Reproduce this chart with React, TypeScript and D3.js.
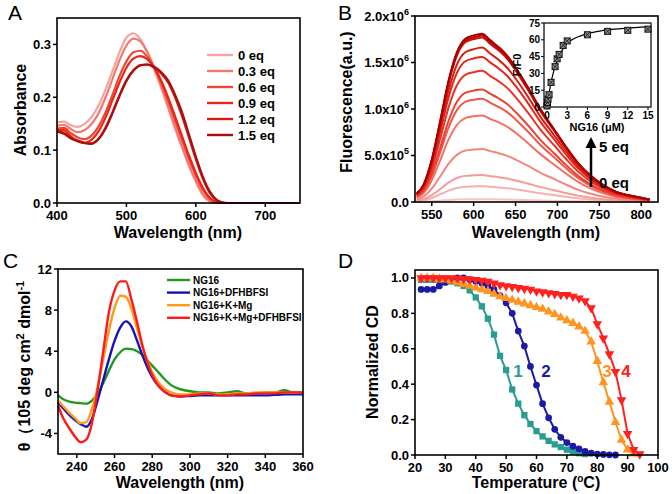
import React from 'react';
import * as d3 from 'd3';

const FONT = "'Liberation Sans', Arial, Helvetica, sans-serif";

// ---------- Panel A data ----------
const absWavelengths = [400,410,420,430,440,450,460,470,480,490,500,510,520,530,540,550,560,570,580,590,600,610,620,630,640,650,700,750];
const absLabels = ['0 eq','0.3 eq','0.6 eq','0.9 eq','1.2 eq','1.5 eq'];
const absColors = ['#f6a3a0','#f27870','#f04535','#ea2416','#da1a10','#a81010'];
const abs0 = [.152,.154,.147,.144,.150,.163,.185,.215,.250,.285,.313,.321,.310,.285,.253,.218,.180,.140,.105,.070,.040,.015,.003,0,0,0,0,0];
const abs03 = [.146,.148,.140,.134,.138,.150,.170,.200,.235,.270,.298,.311,.306,.286,.256,.222,.184,.145,.108,.073,.042,.017,.004,0,0,0,0,0];
const abs06 = [.141,.142,.132,.124,.121,.128,.145,.172,.205,.240,.268,.285,.288,.277,.256,.228,.194,.157,.120,.084,.052,.025,.008,.001,0,0,0,0];
const abs09 = [.138,.138,.126,.117,.114,.120,.136,.162,.195,.228,.256,.273,.278,.272,.256,.232,.200,.164,.127,.090,.057,.029,.010,.002,0,0,0,0];
const abs12 = [.136,.133,.124,.118,.114,.113,.122,.143,.172,.204,.232,.251,.261,.262,.256,.245,.228,.200,.165,.124,.083,.046,.019,.005,0,0,0,0];
const abs15 = [.135,.131,.122,.117,.113,.112,.121,.141,.170,.202,.231,.250,.260,.262,.258,.248,.232,.205,.172,.130,.088,.050,.022,.006,.001,0,0,0];
const absSeries = [abs0, abs03, abs06, abs09, abs12, abs15];
const absXTicks = [400,500,600,700];
const absYTicks = [0,0.1,0.2,0.3];

// ---------- Panel B data (values in units of 1e5) ----------
const flWavelengths = [532,540,550,560,570,580,590,600,610,620,630,640,650,665,680,695,710,725,740,755,770,785,800,810];
const fl00 = [0.02,0.03,0.08,0.14,0.22,0.27,0.29,0.3,0.3,0.29,0.28,0.26,0.24,0.2,0.17,0.13,0.1,0.07,0.05,0.03,0.02,0.01,0.01,0.0];
const fl01 = [0.09,0.17,0.43,0.82,1.22,1.51,1.65,1.68,1.7,1.63,1.56,1.48,1.36,1.16,0.94,0.75,0.56,0.39,0.26,0.17,0.1,0.07,0.04,0.03];
const fl02 = [0.15,0.29,0.73,1.39,2.09,2.58,2.81,2.87,2.9,2.78,2.67,2.52,2.32,1.97,1.6,1.28,0.96,0.67,0.45,0.29,0.17,0.12,0.07,0.04];
const fl03 = [0.29,0.57,1.43,2.74,4.10,5.07,5.53,5.64,5.7,5.47,5.24,4.96,4.56,3.88,3.14,2.51,1.88,1.31,0.88,0.57,0.34,0.23,0.14,0.09];
const fl04 = [0.47,0.93,2.33,4.46,6.70,8.28,9.02,9.21,9.3,8.93,8.56,8.09,7.44,6.32,5.12,4.09,3.07,2.14,1.44,0.93,0.56,0.37,0.23,0.14];
const fl05 = [0.56,1.11,2.78,5.33,7.99,9.88,10.77,10.99,11.1,10.66,10.21,9.66,8.88,7.55,6.11,4.88,3.66,2.55,1.72,1.11,0.67,0.44,0.28,0.17];
const fl06 = [0.61,1.21,3.03,5.81,8.71,10.77,11.74,11.98,12.1,11.62,11.13,10.53,9.68,8.23,6.66,5.32,3.99,2.78,1.88,1.21,0.73,0.48,0.30,0.18];
const fl07 = [0.71,1.41,3.53,6.77,10.15,12.55,13.68,13.96,14.1,13.54,12.97,12.27,11.28,9.59,7.76,6.2,4.65,3.24,2.19,1.41,0.85,0.56,0.35,0.21];
const fl08 = [0.78,1.56,3.9,7.49,11.23,13.88,15.13,15.44,15.6,14.98,14.35,13.57,12.48,10.61,8.58,6.86,5.15,3.59,2.42,1.56,0.94,0.62,0.39,0.23];
const fl09 = [0.83,1.66,4.15,7.97,11.95,14.77,16.1,16.43,16.6,15.94,15.27,14.44,13.28,11.29,9.13,7.3,5.48,3.82,2.57,1.66,1.0,0.66,0.42,0.25];
const fl10 = [0.89,1.77,4.43,8.5,12.74,15.75,17.17,17.52,17.7,16.99,16.28,15.4,14.16,12.04,9.74,7.79,5.84,4.07,2.74,1.77,1.06,0.71,0.44,0.27];
const fl11 = [0.9,1.79,4.48,8.59,12.89,15.93,17.36,17.72,17.9,17.18,16.47,15.57,14.32,12.17,9.85,7.88,5.91,4.12,2.77,1.79,1.07,0.72,0.45,0.27];
const fl12 = [0.91,1.81,4.53,8.69,13.03,16.11,17.56,17.92,18.1,17.38,16.65,15.75,14.48,12.31,9.96,7.96,5.97,4.16,2.81,1.81,1.09,0.72,0.45,0.27];
const flSeries = [fl00, fl01, fl02, fl03, fl04, fl05, fl06, fl07, fl08, fl09, fl10, fl11, fl12];
const flXTicks = [550,600,650,700,750,800];
const flYTicks = [0, 5, 10, 15, 20];
const flYTickMant = ['0.0','5.0x10','1.0x10','1.5x10','2.0x10'];
const flYTickExp = ['','5','6','6','6'];

// inset
const insetConc = [0,0.075,0.15,0.3,0.6,1.2,1.5,1.8,2.4,3,6,9,12,15];
const insetRatio = [1,4,7,11,22,36,43,47,55,59,64.5,67.5,68.5,69.5];
const fitConc = [0,0.3,0.6,1,1.5,2,2.5,3,4,5,6,8,10,12,15];
const fitRatio = [0,12,22,32,41,48,53,57,61,63.5,65.5,68,69.5,70.5,71.8];
const insetXTicks = [0,3,6,9,12,15];
const insetYTicks = [0,15,30,45,60,75];

// ---------- Panel C data ----------
const cdWavelengths = [230,233,236,239,242,245,248,251,254,257,260,263,266,269,272,275,278,281,284,287,290,295,300,305,310,315,320,325,330,335,340,345,350,355,360];
const cdLabels = ['NG16','NG16+DFHBFSI','NG16+K+Mg','NG16+K+Mg+DFHBFSI'];
const cdColors = ['#1f9a1f','#1414b4','#ff9a1e','#ff1a1a'];
const cdNG16 = [-0.3,-0.7,-0.9,-1.0,-1.05,-1.1,-0.8,-0.1,0.9,2.1,3.2,3.9,4.25,4.2,4.0,3.6,3.0,2.4,1.8,1.2,0.7,0.3,0.1,0.0,0.0,-0.1,0.0,0.1,-0.1,-0.1,0.0,0.0,0.2,0.0,0.0];
const cdDF = [-1.0,-1.6,-2.2,-2.7,-3.1,-3.35,-2.6,-0.8,1.2,3.2,5.0,6.3,6.9,6.4,5.0,3.5,2.2,1.2,0.5,0.0,-0.3,-0.4,-0.35,-0.3,-0.3,-0.3,-0.3,-0.3,-0.3,-0.3,-0.3,-0.25,-0.2,-0.2,-0.2];
const cdKMg = [-0.8,-1.4,-2.0,-2.5,-3.0,-2.9,-1.6,0.5,3.2,6.0,8.2,9.4,9.3,8.1,6.2,4.3,2.8,1.6,0.8,0.3,0.0,-0.2,-0.2,-0.1,-0.1,-0.2,-0.2,-0.1,-0.1,0.0,0.0,0.0,0.0,0.0,0.0];
const cdKMgDF = [-1.3,-2.6,-3.5,-4.3,-4.85,-4.6,-3.0,0.2,4.0,7.8,9.9,10.8,10.8,9.0,6.8,4.4,2.6,1.3,0.5,0.0,-0.3,-0.4,-0.3,-0.2,-0.1,-0.3,-0.3,-0.2,-0.2,-0.1,-0.1,-0.1,0.0,0.0,0.0];
const cdSeries = [cdNG16, cdDF, cdKMg, cdKMgDF];
const cdXTicks = [240,260,280,300,320,340,360];
const cdYTicks = [-4,0,4,8,12];

// ---------- Panel D data ----------
const temps = [22,24,26,28,30,32,34,36,38,40,42,44,46,48,50,52,54,56,58,60,62,64,66,68,70,72,74,76,78,80,82,84,86,88,90,92,94];
const melt1 = [0.99,0.99,0.99,0.99,0.985,0.98,0.97,0.955,0.93,0.89,0.84,0.77,0.68,0.56,0.48,0.37,0.29,0.225,0.175,0.135,0.105,0.08,0.06,0.045,0.03,0.02,0.01,0.005,null,null,null,null,null,null,null,null,null];
const melt2 = [0.935,0.935,0.935,0.955,0.975,0.99,1.0,1.0,0.99,0.98,0.97,0.955,0.935,0.90,0.86,0.80,0.70,0.615,0.50,0.395,0.29,0.21,0.145,0.10,0.07,0.05,0.035,0.02,0.01,0.005,0.003,0.001,0,null,null,null,null];
const melt3 = [1.0,1.0,1.0,0.995,0.99,0.985,0.975,0.965,0.955,0.945,0.935,0.925,0.91,0.895,0.885,0.875,0.865,0.855,0.845,0.835,0.825,0.81,0.795,0.775,0.76,0.745,0.725,0.70,0.64,0.53,0.41,0.30,0.185,0.085,0.03,0.007,null];
const melt4 = [1.0,1.0,1.0,1.0,1.0,1.0,0.998,0.995,0.993,0.99,0.985,0.98,0.97,0.96,0.955,0.95,0.945,0.94,0.935,0.925,0.92,0.915,0.91,0.905,0.905,0.895,0.885,0.87,0.83,0.74,0.66,0.57,0.47,0.31,0.12,0.03,0.005];
const meltSeries = [melt1, melt2, melt3, melt4];
const meltColors = ['#2a9d92','#1a1aa6','#ff9420','#ff2020'];
const meltLabels = ['1','2','3','4'];
const meltSymbols = [d3.symbolSquare, d3.symbolCircle, d3.symbolTriangle, d3.symbolTriangle];
const meltXTicks = [20,30,40,50,60,70,80,90,100];
const meltYTicks = [0,0.2,0.4,0.6,0.8,1.0];

// ---------- helpers ----------
type Sc = d3.ScaleLinear<number, number>;

function Frame({ x, y, xTicks, yTicks, xFmt, yFmt, tickSize = 13 }: {
  x: Sc; y: Sc; xTicks: number[]; yTicks: number[];
  xFmt: (v: number, i: number) => React.ReactNode; yFmt: (v: number, i: number) => React.ReactNode; tickSize?: number;
}) {
  const [x0, x1] = x.range();
  const [y0, y1] = y.range();
  return (
    <g>
      <rect x={x0} y={y1} width={x1 - x0} height={y0 - y1} fill="none" stroke="#000" strokeWidth={1.6} />
      {xTicks.map((t, i) => (
        <g key={'x' + i}>
          <line x1={x(t)} x2={x(t)} y1={y0} y2={y0 + 4} stroke="#000" strokeWidth={1.5} />
          <text x={x(t)} y={y0 + 17} textAnchor="middle" fontSize={tickSize} fontWeight="bold">{xFmt(t, i)}</text>
        </g>
      ))}
      {yTicks.map((t, i) => (
        <g key={'y' + i}>
          <line x1={x0 - 4} x2={x0} y1={y(t)} y2={y(t)} stroke="#000" strokeWidth={1.5} />
          <text x={x0 - 6} y={y(t) + 4.5} textAnchor="end" fontSize={tickSize} fontWeight="bold">{yFmt(t, i)}</text>
        </g>
      ))}
    </g>
  );
}

function PanelA() {
  const x = d3.scaleLinear().domain([400, 750]).range([57, 300]);
  const y = d3.scaleLinear().domain([0, 0.35]).range([203, 18]);
  const line = d3.line<number>().x((_, i) => x(absWavelengths[i])).y(d => y(d)).curve(d3.curveMonotoneX);
  return (
    <g>
      {absSeries.map((s, i) => (
        <path key={i} d={line(s) || ''} fill="none" stroke={absColors[i]} strokeWidth={2.2} />
      ))}
      <Frame x={x} y={y} xTicks={absXTicks} yTicks={absYTicks} xFmt={v => String(v)} yFmt={v => v.toFixed(1)} />
      {absLabels.map((l, i) => (
        <g key={l}>
          <line x1={207} x2={233} y1={55 + i * 16} y2={55 + i * 16} stroke={absColors[i]} strokeWidth={2.4} />
          <text x={238} y={55 + i * 16 + 4.5} fontSize={13} fontWeight="bold">{l}</text>
        </g>
      ))}
      <text x={178} y={238} textAnchor="middle" fontSize={16} fontWeight="bold">Wavelength (nm)</text>
      <text transform="translate(26,110) rotate(-90)" textAnchor="middle" fontSize={16} fontWeight="bold">Absorbance</text>
      <text x={8} y={20} fontSize={21}>A</text>
    </g>
  );
}

function PanelB() {
  const x = d3.scaleLinear().domain([530, 820]).range([415, 658]);
  const y = d3.scaleLinear().domain([0, 20]).range([202, 16]);
  const line = d3.line<number>().x((_, i) => x(flWavelengths[i])).y(d => y(d)).curve(d3.curveMonotoneX);
  const col = d3.scaleSequential(d3.interpolateRgbBasis(['#f9c4c2', '#f28a80', '#ee3a2a', '#e01a10', '#a80000'])).domain([0, flSeries.length - 1]);
  const ix = d3.scaleLinear().domain([-0.45, 15.45]).range([544, 651]);
  const iy = d3.scaleLinear().domain([0, 75]).range([107, 23]);
  const fit = d3.line<number>().x((_, i) => ix(fitConc[i])).y(d => iy(d)).curve(d3.curveMonotoneX);
  return (
    <g>
      {flSeries.map((s, i) => (
        <path key={i} d={line(s) || ''} fill="none" stroke={col(i)} strokeWidth={2} />
      ))}
      <Frame x={x} y={y} xTicks={flXTicks} yTicks={flYTicks} xFmt={v => String(v)}
        yFmt={(v, i) => (<>
          <tspan>{flYTickMant[i]}</tspan>
          {flYTickExp[i] ? <tspan dy={-6} fontSize={9}>{flYTickExp[i]}</tspan> : null}
        </>)} />
      {/* inset */}
      <rect x={544} y={23} width={107} height={84} fill="#fff" stroke="#000" strokeWidth={1.2} />
      {insetXTicks.map(t => (
        <g key={'ix' + t}>
          <line x1={ix(t)} x2={ix(t)} y1={107} y2={110} stroke="#000" strokeWidth={1} />
          <text x={ix(t)} y={119} textAnchor="middle" fontSize={10} fontWeight="bold">{t}</text>
        </g>
      ))}
      {insetYTicks.map(t => (
        <g key={'iy' + t}>
          <line x1={541} x2={544} y1={iy(t)} y2={iy(t)} stroke="#000" strokeWidth={1} />
          <text x={540} y={iy(t) + 3.5} textAnchor="end" fontSize={10} fontWeight="bold">{t}</text>
        </g>
      ))}
      <path d={fit(fitRatio) || ''} fill="none" stroke="#000" strokeWidth={1.2} />
      {insetConc.map((c, i) => {
        const cx = ix(c), cy = iy(insetRatio[i]);
        return (
          <g key={'p' + i}>
            <rect x={cx - 3} y={cy - 3} width={6} height={6} fill="#8a8a8a" stroke="#111" strokeWidth={1} />
            <line x1={cx - 3} y1={cy - 3} x2={cx + 3} y2={cy + 3} stroke="#111" strokeWidth={0.8} />
            <line x1={cx - 3} y1={cy + 3} x2={cx + 3} y2={cy - 3} stroke="#111" strokeWidth={0.8} />
          </g>
        );
      })}
      <text x={597} y={131} textAnchor="middle" fontSize={11} fontWeight="bold">NG16 (μM)</text>
      <text transform="translate(521,65) rotate(-90)" textAnchor="middle" fontSize={11} fontWeight="bold">F/F0</text>
      {/* arrow */}
      <line x1={591} x2={591} y1={187} y2={146} stroke="#000" strokeWidth={2.5} />
      <path d="M585.5,148 L591,137 L596.5,148 Z" fill="#000" />
      <text x={599} y={152} fontSize={15} fontWeight="bold">5 eq</text>
      <text x={599} y={188} fontSize={15} fontWeight="bold">0 eq</text>
      <text x={536} y={238} textAnchor="middle" fontSize={16} fontWeight="bold">Wavelength (nm)</text>
      <text transform="translate(352,102) rotate(-90)" textAnchor="middle" fontSize={16} fontWeight="bold">Fluorescence(a.u.)</text>
      <text x={338} y={20} fontSize={21}>B</text>
    </g>
  );
}

function PanelC() {
  const x = d3.scaleLinear().domain([230, 360]).range([58, 303]);
  const y = d3.scaleLinear().domain([-6, 12]).range([454, 269]);
  const line = d3.line<number>().x((_, i) => x(cdWavelengths[i])).y(d => y(d)).curve(d3.curveMonotoneX);
  return (
    <g>
      {cdSeries.map((s, i) => (
        <path key={i} d={line(s) || ''} fill="none" stroke={cdColors[i]} strokeWidth={2.4} />
      ))}
      <Frame x={x} y={y} xTicks={cdXTicks} yTicks={cdYTicks} xFmt={v => String(v)} yFmt={v => String(v)} />
      {cdLabels.map((l, i) => (
        <g key={l}>
          <line x1={167} x2={190} y1={280 + i * 12.6} y2={280 + i * 12.6} stroke={cdColors[i]} strokeWidth={2.4} />
          <text x={193} y={280 + i * 12.6 + 3.6} fontSize={10} fontWeight="bold">{l}</text>
        </g>
      ))}
      <text x={180} y={488} textAnchor="middle" fontSize={16} fontWeight="bold">Wavelength (nm)</text>
      <text transform="translate(30,366) rotate(-90)" textAnchor="middle" fontSize={16} fontWeight="bold">
        <tspan>θ（105  deg cm</tspan><tspan dy={-6} fontSize={11}>2</tspan><tspan dy={6}> dmol</tspan><tspan dy={-6} fontSize={11}>-1</tspan>
      </text>
      <text x={3} y={268} fontSize={21}>C</text>
    </g>
  );
}

function PanelD() {
  const x = d3.scaleLinear().domain([20, 100]).range([415, 658]);
  const y = d3.scaleLinear().domain([0, 1.045]).range([455, 270]);
  const line = d3.line<number | null>().defined(d => d != null).x((_, i) => x(temps[i])).y(d => y(d as number));
  return (
    <g>
      {meltSeries.map((s, i) => (
        <g key={i}>
          <path d={line(s) || ''} fill="none" stroke={meltColors[i]} strokeWidth={2} />
          {s.map((v, j) => v == null ? null : (
            <path key={j} d={d3.symbol().type(meltSymbols[i]).size(i === 1 ? 36 : 40)() || ''}
              transform={`translate(${x(temps[j])},${y(v)})${i === 3 ? ' rotate(180)' : ''}`}
              fill={meltColors[i]} />
          ))}
        </g>
      ))}
      <Frame x={x} y={y} xTicks={meltXTicks} yTicks={meltYTicks} xFmt={v => String(v)} yFmt={v => v.toFixed(1)} />
      <text x={518} y={377} textAnchor="middle" fontSize={17} fontWeight="bold" fill={meltColors[0]}>{meltLabels[0]}</text>
      <text x={546} y={377} textAnchor="middle" fontSize={17} fontWeight="bold" fill={meltColors[1]}>{meltLabels[1]}</text>
      <text x={607} y={377} textAnchor="middle" fontSize={17} fontWeight="bold" fill={meltColors[2]}>{meltLabels[2]}</text>
      <text x={626} y={377} textAnchor="middle" fontSize={17} fontWeight="bold" fill={meltColors[3]}>{meltLabels[3]}</text>
      <text x={536} y={488} textAnchor="middle" fontSize={16} fontWeight="bold">
        <tspan>Temperature (</tspan><tspan dy={-6} fontSize={10}>o</tspan><tspan dy={6}>C)</tspan>
      </text>
      <text transform="translate(378,362) rotate(-90)" textAnchor="middle" fontSize={16} fontWeight="bold">Normalized CD</text>
      <text x={338} y={268} fontSize={21}>D</text>
    </g>
  );
}

export default function App() {
  return (
    <svg width={672} height={494} viewBox="0 0 672 494"
      style={{ position: 'absolute', left: 0, top: 0, background: '#fff' }}
      fontFamily={FONT}>
      <rect width={672} height={494} fill="#fff" />
      <PanelA />
      <PanelB />
      <PanelC />
      <PanelD />
    </svg>
  );
}
